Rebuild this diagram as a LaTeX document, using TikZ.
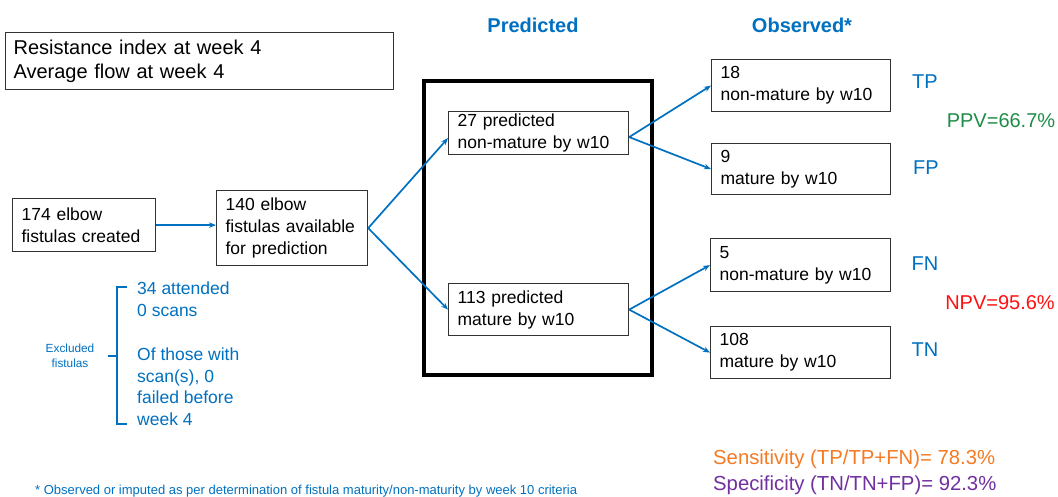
\documentclass[tikz,border=0pt]{standalone}
\usepackage{fontspec}
\setmainfont{Liberation Sans}
\usetikzlibrary{arrows.meta,calc}
\definecolor{ublue}{HTML}{0070C0}
\definecolor{ugreen}{HTML}{1E8C46}
\definecolor{ured}{HTML}{FF1010}
\definecolor{uorange}{HTML}{F57A24}
\definecolor{upurple}{HTML}{7030A0}
\begin{document}
\begin{tikzpicture}[x=1pt,y=-1pt,
  box/.style={draw=black!80, line width=1.2pt, anchor=north west, align=left,
    inner xsep=9pt, inner ysep=0pt, font=\fontsize{17.5}{22}\selectfont},
  conn/.style={draw=ublue, line width=1.7pt, -{Stealth[length=7pt,width=5.5pt]}},
  lbl/.style={text=ublue, font=\fontsize{20}{24}\selectfont},
  head/.style={text=ublue, font=\bfseries\fontsize{20}{24}\selectfont},
  brtext/.style={text=ublue, anchor=north west, align=left, inner sep=0pt,
    font=\fontsize{17.5}{21.8}\selectfont},
]
\useasboundingbox (0,0) rectangle (1058,497);

% criteria box
\node[box, inner xsep=8pt, text width=372pt, minimum height=57pt,
  font=\fontsize{20}{24}\selectfont] (crit) at (5,32)
  {Resistance index at week 4\\Average flow at week 4};

% headers
\node[head] (hpred) at (533,25) {Predicted};
\node[head] (hobs) at (802,25) {Observed*};

% left flow
\node[box, text width=125pt, minimum height=53pt] (n174) at (12,198)
  {174 elbow\\fistulas created};
\node[box, text width=133pt, minimum height=75pt] (n140) at (216,190)
  {140 elbow\\fistulas available\\for prediction};

% prediction frame
\node[draw=black, line width=4pt, anchor=north west, inner sep=0pt,
  minimum width=228pt, minimum height=294pt] (frame) at (422,79) {};

\node[box, text width=162pt, minimum height=43pt] (n27) at (448,111)
  {27 predicted\\non-mature by w10};
\node[box, text width=162pt, minimum height=52pt] (n113) at (448,283)
  {113 predicted\\mature by w10};

% observed
\node[box, text width=161pt, minimum height=52pt] (n18) at (711,59)
  {18\\non-mature by w10};
\node[box, text width=161pt, minimum height=51pt] (n9) at (711,143)
  {9\\mature by w10};
\node[box, text width=162pt, minimum height=53pt] (n5) at (710,238)
  {5\\non-mature by w10};
\node[box, text width=162pt, minimum height=52pt] (n108) at (710,326)
  {108\\mature by w10};

% labels
\node[lbl] (tp) at (925,82) {TP};
\node[lbl] (fp) at (926,168) {FP};
\node[lbl] (fn) at (925,264) {FN};
\node[lbl] (tn) at (925,350) {TN};
\node[lbl, text=ugreen] (ppv) at (1001,121) {PPV=66.7\%};
\node[lbl, text=ured] (npv) at (1000,303) {NPV=95.6\%};

\node[lbl, text=uorange, anchor=west, inner sep=0pt,
  font=\fontsize{20.3}{24}\selectfont] (sens) at (713,459)
  {Sensitivity (TP/TP+FN)= 78.3\%};
\node[lbl, text=upurple, anchor=west, inner sep=0pt,
  font=\fontsize{20.3}{24}\selectfont] (spec) at (713,485)
  {Specificity (TN/TN+FP)= 92.3\%};

% connectors
\draw[conn] (n174.east) -- (n174.east -| n140.west);
\draw[conn] (n140.east) -- ($(n27.west)+(0,5)$);
\draw[conn] (n140.east) -- (n113.west);
\draw[conn] ($(n27.east)+(0,4)$) -- (n18.west);
\draw[conn] ($(n27.east)+(0,4)$) -- (n9.west);
\draw[conn] (n113.east) -- (n5.west);
\draw[conn] (n113.east) -- (n108.west);

% excluded bracket
\coordinate (bt) at (127,287);
\coordinate (btc) at (117,287);
\coordinate (bbc) at (117,424);
\coordinate (bb) at (127,424);
\coordinate (bmc) at (117,356);
\coordinate (bm) at (108,356);
\draw[ublue, line width=1.8pt] (bt) -- (btc) -- (bbc) -- (bb);
\draw[ublue, line width=1.8pt] (bmc) -- (bm);
\node[text=ublue, align=center, inner sep=0pt,
  font=\fontsize{11.8}{15}\selectfont] (excl) at (70,356) {Excluded\\fistulas};
\node[brtext] (extxt) at (137,282)
  {34 attended\\0 scans\\[21.8pt]Of those with\\scan(s), 0\\failed before\\week 4};

% footnote
\node[text=ublue, anchor=west, inner sep=0pt, font=\fontsize{13}{15}\selectfont]
  (foot) at (35,491)
  {* Observed or imputed as per determination of fistula maturity/non-maturity by week 10 criteria};
\end{tikzpicture}
\end{document}
